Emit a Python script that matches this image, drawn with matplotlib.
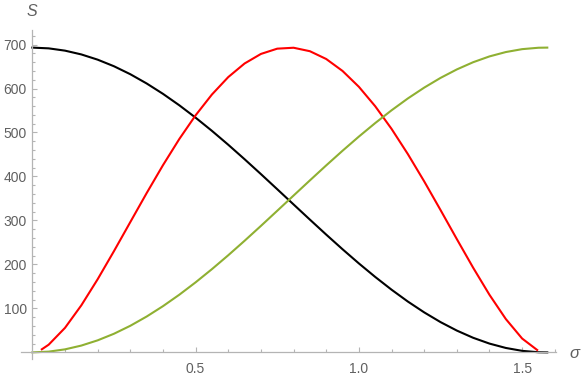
import numpy as np
import matplotlib
matplotlib.use("Agg")
import matplotlib.pyplot as plt
from matplotlib.ticker import FixedLocator

# sample points
sigma = [0.0, 0.05, 0.10, 0.15, 0.20, 0.25, 0.30, 0.35, 0.40, 0.45, 0.50,
         0.55, 0.60, 0.65, 0.70, 0.75, 0.80, 0.85, 0.90, 0.95, 1.00, 1.05,
         1.10, 1.15, 1.20, 1.25, 1.30, 1.35, 1.40, 1.45, 1.50, 1.55, 1.577]
s_green = [0, 1.7, 6.9, 15.5, 27.4, 42.4, 60.5, 81.5, 105.1, 131.1, 159.3,
           189.3, 220.9, 253.8, 287.6, 322.0, 356.6, 391.1, 425.2, 458.5, 490.7,
           521.4, 550.4, 577.4, 602.0, 624.1, 643.4, 659.8, 673.0, 682.9, 689.5,
           692.7, 693.0]
s_black = [693.0, 691.3, 686.1, 677.5, 665.6, 650.6, 632.5, 611.5, 587.9,
           561.9, 533.7, 503.7, 472.1, 439.2, 405.4, 371.0, 336.4, 301.9, 267.8,
           234.5, 202.3, 171.6, 142.6, 115.6, 91.0, 68.9, 49.6, 33.2, 20.0, 10.1,
           3.5, 0.3, 0.0]

sigma_red = [0.029, 0.05, 0.10, 0.15, 0.20, 0.25, 0.30, 0.35, 0.40, 0.45, 0.50,
             0.55, 0.60, 0.65, 0.70, 0.75, 0.80, 0.85, 0.90, 0.95, 1.00, 1.05,
             1.10, 1.15, 1.20, 1.25, 1.30, 1.35, 1.40, 1.45, 1.50, 1.546]
s_red = [7.0, 17.5, 55.8, 107.0, 166.3, 230.3, 296.3, 362.1, 425.6, 485.1, 539.1,
         586.4, 626.0, 656.9, 678.6, 690.6, 692.7, 684.8, 667.1, 639.9, 603.9,
         559.7, 508.3, 450.9, 388.9, 323.8, 257.6, 192.5, 130.9, 75.9, 31.5, 5.5]

axis_gray = "#b4b4b4"
label_gray = "#606060"
green = "#8fb032"

plt.rcParams["font.family"] = ["Liberation Sans", "DejaVu Sans"]

fig = plt.figure(figsize=(5.81, 3.79), dpi=100)
ax = fig.add_axes([0.036, 0.0528, 0.9217, 0.868])

ax.plot(sigma, s_black, color="black", lw=1.5)
ax.plot(sigma_red, s_red, color="red", lw=1.5)
ax.plot(sigma, s_green, color=green, lw=1.5)

ax.set_xlim(-0.035, 1.605)
ax.set_ylim(-15, 733)

for side in ["top", "right"]:
    ax.spines[side].set_visible(False)
ax.spines["left"].set_position(("data", 0))
ax.spines["bottom"].set_position(("data", 0))
for side in ["left", "bottom"]:
    ax.spines[side].set_color(axis_gray)
    ax.spines[side].set_linewidth(0.9)

ax.xaxis.set_major_locator(FixedLocator([0.5, 1.0, 1.5]))
ax.xaxis.set_minor_locator(FixedLocator(np.arange(1, 17) / 10))
ax.yaxis.set_major_locator(FixedLocator([100, 200, 300, 400, 500, 600, 700]))
ax.yaxis.set_minor_locator(FixedLocator(np.arange(1, 37) * 20))
ax.set_xticklabels(["0.5", "1.0", "1.5"])

ax.tick_params(which="both", direction="in", color=axis_gray, width=0.8,
               labelcolor=label_gray, labelsize=10)
ax.tick_params(which="major", length=3.5)
ax.tick_params(which="minor", length=2.2)
ax.tick_params(axis="x", pad=7)
ax.tick_params(axis="y", pad=4)

ax.annotate("S", xy=(0, 776), xycoords="data", ha="center", va="center",
            fontsize=11.5, style="italic", color=label_gray, annotation_clip=False)
ax.annotate("σ", xy=(1.66, -3), xycoords="data", ha="center", va="center",
            fontsize=12, style="italic", color=label_gray, annotation_clip=False)

fig.savefig("out.png", dpi=100)
